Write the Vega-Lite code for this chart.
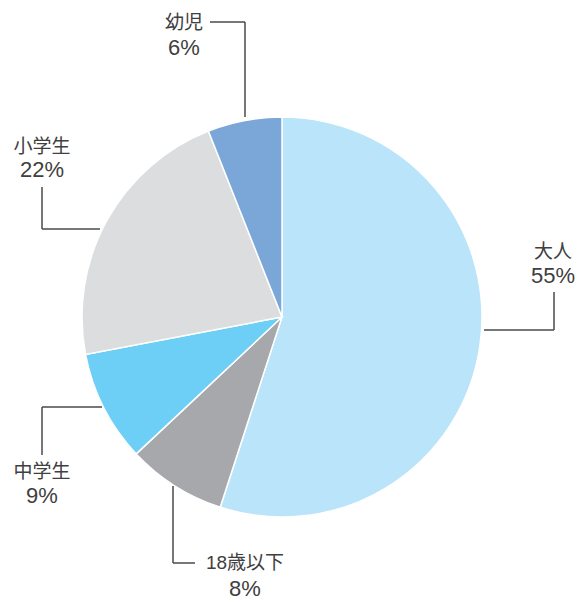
{
  "$schema": "https://vega.github.io/schema/vega-lite/v6.json",
  "width": 584,
  "height": 602,
  "padding": 0,
  "autosize": {"type": "none"},
  "config": {"view": {"stroke": null}},
  "datasets": {
    "slices": [
      {"category": "大人", "value": 55, "order": 1},
      {"category": "18歳以下", "value": 8, "order": 2},
      {"category": "中学生", "value": 9, "order": 3},
      {"category": "小学生", "value": 22, "order": 4},
      {"category": "幼児", "value": 6, "order": 5}
    ],
    "leaders": [
      {"category": "幼児", "x": -36, "y": 147.5, "x2": -18.5, "y2": 147.5},
      {"category": "幼児", "x": -18.5, "y": 147.5, "x2": -18.5, "y2": 100},
      {"category": "小学生", "x": -120, "y": 65, "x2": -120, "y2": 44},
      {"category": "小学生", "x": -120, "y": 44, "x2": -91, "y2": 44},
      {"category": "大人", "x": 101, "y": -6.5, "x2": 136, "y2": -6.5},
      {"category": "大人", "x": 136, "y": -6.5, "x2": 136, "y2": 12.5},
      {"category": "中学生", "x": -120, "y": -45, "x2": -90, "y2": -45},
      {"category": "中学生", "x": -120, "y": -45, "x2": -120, "y2": -69},
      {"category": "18歳以下", "x": -54.5, "y": -84.5, "x2": -54.5, "y2": -123},
      {"category": "18歳以下", "x": -54.5, "y": -123, "x2": -43.5, "y2": -123}
    ],
    "labels": [
      {"category": "幼児", "pct": "6%", "x": -49, "y": 147, "y2": 134.5},
      {"category": "小学生", "pct": "22%", "x": -120, "y": 85, "y2": 73.5},
      {"category": "大人", "pct": "55%", "x": 135.5, "y": 32.5, "y2": 20.5},
      {"category": "中学生", "pct": "9%", "x": -120, "y": -77.5, "y2": -89.5},
      {"category": "18歳以下", "pct": "8%", "x": -18.5, "y": -123, "y2": -136}
    ]
  },
  "layer": [
    {
      "data": {"name": "slices"},
      "mark": {"type": "arc", "radius": 200, "stroke": "#ffffff", "strokeWidth": 1.5},
      "encoding": {
        "x": {"datum": 0, "type": "quantitative", "scale": {"domain": [-141, 151], "nice": false, "zero": false}, "axis": null},
        "y": {"datum": 0, "type": "quantitative", "scale": {"domain": [-142.5, 158.5], "nice": false, "zero": false}, "axis": null},
        "theta": {"field": "value", "type": "quantitative", "stack": true},
        "order": {"field": "order", "type": "quantitative"},
        "color": {
          "field": "category",
          "type": "nominal",
          "legend": null,
          "scale": {
            "domain": ["大人", "18歳以下", "中学生", "小学生", "幼児"],
            "range": ["#b9e4f9", "#a7a8ab", "#6dcff5", "#dcddde", "#7ba7d8"]
          }
        }
      }
    },
    {
      "data": {"name": "leaders"},
      "mark": {"type": "rule", "color": "#4a4a4a", "strokeWidth": 1.5},
      "encoding": {
        "x": {"field": "x", "type": "quantitative"},
        "y": {"field": "y", "type": "quantitative"},
        "x2": {"field": "x2"},
        "y2": {"field": "y2"}
      }
    },
    {
      "data": {"name": "labels"},
      "mark": {"type": "text", "font": "Liberation Sans, Noto Sans CJK JP", "fontSize": 19, "color": "#404040", "align": "center", "baseline": "middle"},
      "encoding": {
        "x": {"field": "x", "type": "quantitative"},
        "y": {"field": "y", "type": "quantitative"},
        "text": {"field": "category"}
      }
    },
    {
      "data": {"name": "labels"},
      "mark": {"type": "text", "font": "Liberation Sans", "fontSize": 22, "color": "#404040", "align": "center", "baseline": "middle"},
      "encoding": {
        "x": {"field": "x", "type": "quantitative"},
        "y": {"field": "y2", "type": "quantitative"},
        "text": {"field": "pct"}
      }
    }
  ]
}
